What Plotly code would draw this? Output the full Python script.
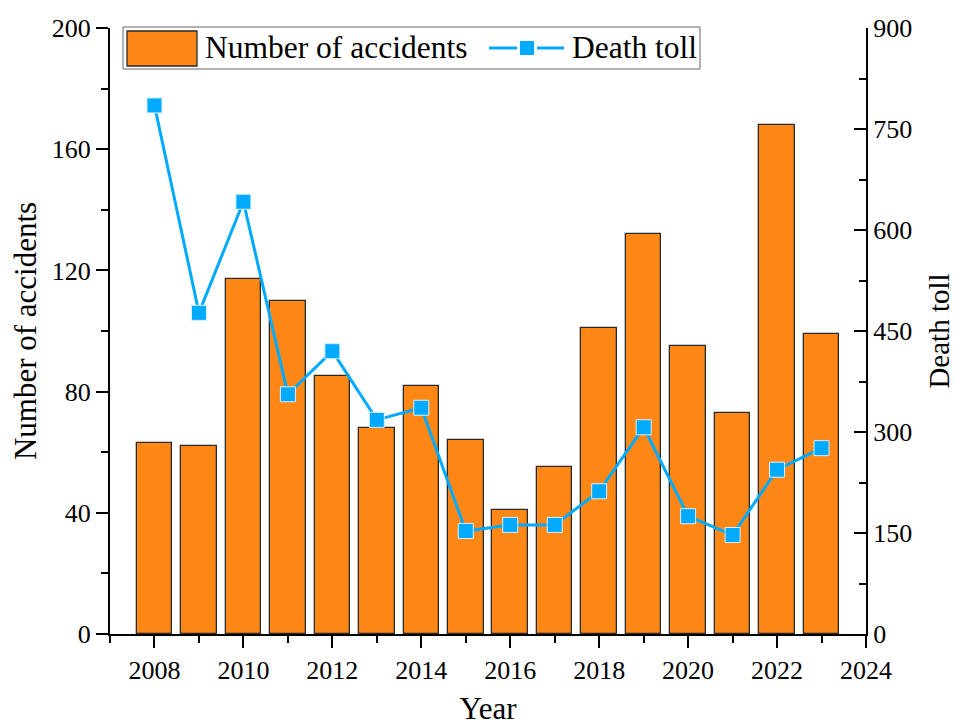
import plotly.graph_objects as go

# Yearly accident statistics
years = list(range(2008, 2024))
accidents = [63, 62, 117, 110, 85, 68, 82, 64, 41, 55, 101, 132, 95, 73, 168, 99]
deaths = [785, 477, 642, 356, 420, 318, 336, 153, 162, 162, 212, 307, 175, 147, 244, 276]

x_ticks = list(range(2008, 2025, 2))

BAR_COLOR = "#FF8716"
LINE_COLOR = "#00AAFF"
FONT = "Liberation Serif, Times New Roman, serif"

W, H = 955, 726
ML, MR, MT, MB = 110, 89, 28, 92
PW, PH = W - ML - MR, H - MT - MB


def px_x(p):
    """Pixel column -> paper x."""
    return (p - ML) / PW


def px_y(p):
    """Pixel row -> paper y."""
    return (H - MB - p) / PH


fig = go.Figure()

fig.add_trace(go.Bar(
    x=years, y=accidents, name="Number of accidents",
    width=0.8,
    marker=dict(color=BAR_COLOR, line=dict(color="#2a2a2a", width=1.3)),
    yaxis="y",
))

fig.add_trace(go.Scatter(
    x=years, y=deaths, name="Death toll",
    mode="lines+markers",
    line=dict(color=LINE_COLOR, width=3),
    marker=dict(symbol="square", size=15, color=LINE_COLOR,
                line=dict(color="#d8f0ff", width=1)),
    yaxis="y2",
))

axis_common = dict(
    showgrid=False, zeroline=False, showline=True,
    linecolor="black", linewidth=2,
    tickcolor="black", tickwidth=2,
    tickfont=dict(family=FONT, size=26, color="black"),
    automargin=False,
)

fig.update_layout(
    width=W, height=H,
    margin=dict(l=ML, r=MR, t=MT, b=MB),
    paper_bgcolor="white", plot_bgcolor="white",
    showlegend=False,
    bargap=0,
    xaxis=dict(
        range=[2007, 2024], tickvals=x_ticks,
        ticks="outside", ticklen=12,
        minor=dict(dtick=1, tick0=2007, ticks="outside", ticklen=7,
                   tickwidth=2, tickcolor="black"),
        title=dict(text="Year", font=dict(family=FONT, size=31, color="black"),
                   standoff=32),
        **axis_common,
    ),
    yaxis=dict(
        range=[0, 200], tick0=0, dtick=40,
        ticks="outside", ticklen=12,
        minor=dict(dtick=20, ticks="outside", ticklen=7,
                   tickwidth=2, tickcolor="black"),
        title=dict(text="Number of accidents",
                   font=dict(family=FONT, size=31, color="black"),
                   standoff=6),
        **axis_common,
    ),
    yaxis2=dict(
        range=[0, 900], tick0=0, dtick=150,
        overlaying="y", side="right",
        ticks="inside", ticklen=12,
        minor=dict(dtick=75, ticks="inside", ticklen=7,
                   tickwidth=2, tickcolor="black"),
        title=dict(text="Death toll",
                   font=dict(family=FONT, size=29, color="black"),
                   standoff=22),
        **axis_common,
    ),
)

# Legend drawn as a framed box above the bars
shapes = [
    dict(type="rect", xref="paper", yref="paper",
         x0=px_x(123), x1=px_x(700), y0=px_y(69), y1=px_y(27),
         line=dict(color="#666666", width=1), fillcolor="white", layer="above"),
    dict(type="rect", xref="paper", yref="paper",
         x0=px_x(127), x1=px_x(197), y0=px_y(66), y1=px_y(31),
         line=dict(color="#2a2a2a", width=1.3), fillcolor=BAR_COLOR, layer="above"),
    dict(type="line", xref="paper", yref="paper",
         x0=px_x(489), x1=px_x(517), y0=px_y(48), y1=px_y(48),
         line=dict(color=LINE_COLOR, width=3), layer="above"),
    dict(type="line", xref="paper", yref="paper",
         x0=px_x(537), x1=px_x(564), y0=px_y(48), y1=px_y(48),
         line=dict(color=LINE_COLOR, width=3), layer="above"),
    dict(type="rect", xref="paper", yref="paper",
         x0=px_x(520), x1=px_x(534), y0=px_y(55), y1=px_y(41),
         line=dict(width=0), fillcolor=LINE_COLOR, layer="above"),
]

annotations = [
    dict(text="Number of accidents", xref="paper", yref="paper",
         x=px_x(203), y=px_y(48), xanchor="left", yanchor="middle",
         showarrow=False, font=dict(family=FONT, size=31.5, color="black")),
    dict(text="Death toll", xref="paper", yref="paper",
         x=px_x(570), y=px_y(48), xanchor="left", yanchor="middle",
         showarrow=False, font=dict(family=FONT, size=31.5, color="black")),
]

fig.update_layout(shapes=shapes, annotations=annotations)

fig.write_html("out.html")
